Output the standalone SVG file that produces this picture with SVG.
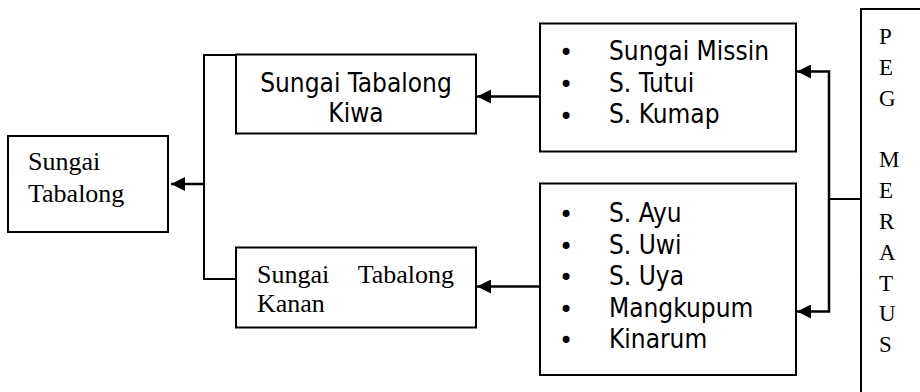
<svg xmlns="http://www.w3.org/2000/svg" width="920" height="392" viewBox="0 0 920 392">
<defs>
<marker id="ah" markerWidth="14" markerHeight="14" refX="14" refY="7" orient="auto" markerUnits="userSpaceOnUse">
<path d="M0,0 L14,7 L0,14 Z" fill="#000"/>
</marker>
<style>
.box{fill:#fff;stroke:#000;stroke-width:2}
.ln{fill:none;stroke:#000;stroke-width:2}
.ar{fill:none;stroke:#000;stroke-width:2.5;marker-end:url(#ah)}
.serif{font-family:"Liberation Serif","Times New Roman",serif;font-size:26px;fill:#000}
.sans{font-family:"DejaVu Sans Condensed","DejaVu Sans",sans-serif;font-stretch:condensed;font-size:26px;fill:#000}
.bul{font-family:"DejaVu Sans",sans-serif;font-size:24px;fill:#000;text-anchor:middle}
.peg{font-family:"Liberation Serif","Times New Roman",serif;font-size:23px;fill:#000}
</style>
</defs>
<rect width="920" height="392" fill="#fff"/>
<g id="connectors">
<path class="ln" d="M236,55 H204 V279 H236"/>
<path class="ar" d="M204,184 H171"/>
<path class="ar" d="M540,96.5 H477"/>
<path class="ar" d="M540,286.5 H477"/>
<path class="ln" d="M861,199 H829"/>
<path class="ar" d="M829,199 V71.5 H797"/>
<path class="ar" d="M829,199 V311.5 H797"/>
</g>
<g id="sungai-tabalong">
<rect class="box" x="8" y="136" width="160" height="96"/>
<text class="serif" x="28" y="170">Sungai</text>
<text class="serif" x="28" y="202">Tabalong</text>
</g>
<g id="kiwa">
<rect class="box" x="236" y="54.5" width="240" height="79"/>
<text class="sans" x="356" y="92" text-anchor="middle">Sungai Tabalong</text>
<text class="sans" x="356" y="122" text-anchor="middle">Kiwa</text>
</g>
<g id="kanan">
<rect class="box" x="236" y="247.5" width="240" height="80"/>
<text class="serif" x="257" y="283">Sungai</text>
<text class="serif" x="454" y="283" text-anchor="end">Tabalong</text>
<text class="serif" x="257" y="312">Kanan</text>
</g>
<g id="kiwa-tributaries">
<rect class="box" x="540" y="23.5" width="256" height="128"/>
<text class="bul" x="566" y="61">•</text>
<text class="bul" x="566" y="93">•</text>
<text class="bul" x="566" y="124.5">•</text>
<text class="sans" x="609" y="60">Sungai Missin</text>
<text class="sans" x="609" y="91.7">S. Tutui</text>
<text class="sans" x="609" y="123.3">S. Kumap</text>
</g>
<g id="kanan-tributaries">
<rect class="box" x="540" y="183.5" width="256" height="191.5"/>
<text class="bul" x="566" y="223">•</text>
<text class="bul" x="566" y="254.5">•</text>
<text class="bul" x="566" y="286">•</text>
<text class="bul" x="566" y="317.5">•</text>
<text class="bul" x="566" y="349">•</text>
<text class="sans" x="609" y="222">S. Ayu</text>
<text class="sans" x="609" y="253.5">S. Uwi</text>
<text class="sans" x="609" y="285">S. Uya</text>
<text class="sans" x="609" y="316.5">Mangkupum</text>
<text class="sans" x="609" y="348">Kinarum</text>
</g>
<g id="peg-meratus">
<rect class="box" x="861" y="9" width="100" height="400"/>
<text class="peg" x="879" y="44">P</text>
<text class="peg" x="879" y="75">E</text>
<text class="peg" x="879" y="106">G</text>
<text class="peg" x="879" y="167">M</text>
<text class="peg" x="879" y="198">E</text>
<text class="peg" x="879" y="229">R</text>
<text class="peg" x="879" y="260">A</text>
<text class="peg" x="879" y="290.5">T</text>
<text class="peg" x="879" y="321">U</text>
<text class="peg" x="879" y="352">S</text>
</g>
</svg>
